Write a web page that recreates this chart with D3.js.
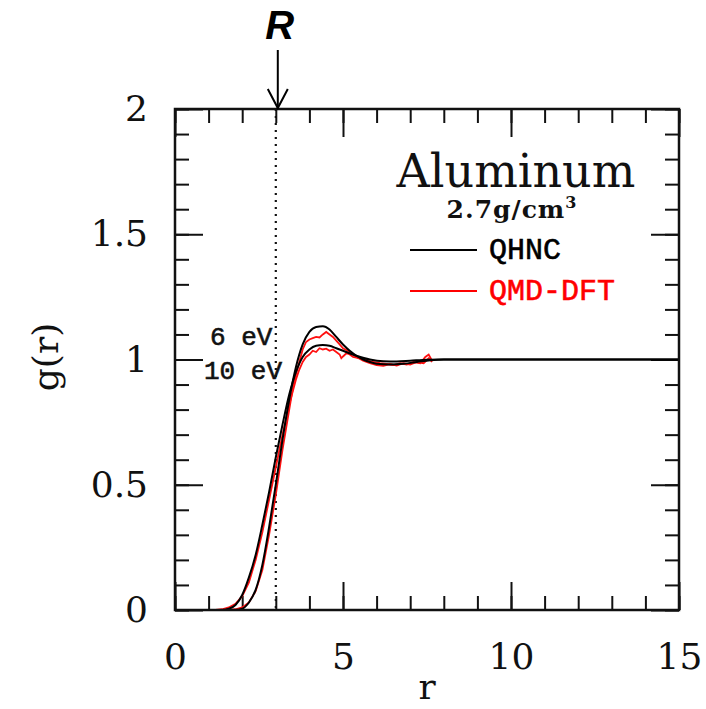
<!DOCTYPE html>
<html><head><meta charset="utf-8">
<script src="https://cdn.jsdelivr.net/npm/d3@7"></script>
<style>body{margin:0;background:#fff}</style>
</head><body>
<svg id="c" width="706" height="709"></svg>
<script>
// ---- data ----
const xTicksMajor = [0, 5, 10, 15];
const yTicksMajor = [0, 0.5, 1, 1.5, 2];
const yTickLabels = ["0", "0.5", "1", "1.5", "2"];
const xTickLabels = ["0", "5", "10", "15"];
const rRadius = 3.0;

// QHNC 10 eV (black)
const qhnc10_r = [0,1.4,1.6,1.8,2.0,2.2,2.4,2.6,2.8,3.0,3.2,3.4,3.6,3.8,4.0,4.2,4.4,4.6,4.8,5.0,5.4,5.8,6.2,6.6,7.0,7.5,8.0,15];
const qhnc10_g = [0,0,0.005,0.02,0.06,0.13,0.22,0.34,0.47,0.61,0.74,0.86,0.95,1.01,1.04,1.055,1.058,1.055,1.045,1.035,1.015,1.0,0.993,0.992,0.995,0.999,1.0,1.0];
// QHNC 6 eV (black)
const qhnc6_r = [0,1.8,2.0,2.2,2.4,2.6,2.8,3.0,3.2,3.4,3.6,3.8,4.0,4.2,4.4,4.6,4.8,5.0,5.2,5.4,5.6,5.8,6.0,6.4,6.8,7.2,7.6,8.0,15];
const qhnc6_g = [0,0,0.005,0.03,0.08,0.18,0.33,0.5,0.68,0.84,0.97,1.06,1.11,1.13,1.133,1.12,1.09,1.06,1.035,1.015,1.0,0.99,0.983,0.98,0.983,0.99,0.997,1.0,1.0];
// QMD-DFT 10 eV (red)
const qmd10_r = [1.2,1.4,1.6,1.8,2.0,2.2,2.4,2.6,2.8,3.0,3.2,3.4,3.5,3.6,3.7,3.8,3.9,4.0,4.1,4.2,4.3,4.4,4.5,4.6,4.7,4.8,4.9,4.95,5.0,5.1,5.2,5.3,5.5,5.7,5.9,6.1,6.3,6.5,6.7,6.9,7.1,7.3,7.45,7.55,7.65];
const qmd10_g = [0,0.003,0.01,0.025,0.055,0.11,0.2,0.31,0.44,0.57,0.7,0.82,0.87,0.92,0.96,0.99,1.01,1.02,1.035,1.03,1.045,1.04,1.043,1.035,1.04,1.03,1.02,1.005,1.012,1.025,1.02,1.01,1.005,0.998,0.99,0.985,0.982,0.978,0.985,0.98,0.99,0.985,1.01,1.02,0.995];
// QMD-DFT 6 eV (red)
const qmd6_r = [1.6,1.8,2.0,2.2,2.4,2.6,2.8,3.0,3.2,3.4,3.5,3.6,3.7,3.8,3.9,4.0,4.1,4.2,4.3,4.4,4.5,4.6,4.7,4.8,4.9,5.0,5.2,5.4,5.6,5.8,6.0,6.2,6.4,6.6,6.8,7.0,7.2,7.4,7.55,7.65];
const qmd6_g = [0,0.003,0.01,0.03,0.075,0.16,0.3,0.46,0.64,0.8,0.88,0.94,0.99,1.04,1.07,1.08,1.085,1.09,1.088,1.1,1.11,1.1,1.09,1.075,1.06,1.045,1.03,1.01,0.995,0.985,0.978,0.975,0.982,0.976,0.985,0.98,0.99,0.985,1.005,0.99];

const legendNames = ["QHNC", "QMD-DFT"];
const legendColors = ["#000", "#ff0000"];

// ---- chart ----
const svg = d3.select("#c");
const L = 175, R = 679, T = 109, B = 610;
const x = d3.scaleLinear().domain([0, 15]).range([L, R]);
const y = d3.scaleLinear().domain([0, 2]).range([B, T]);
const serif = "'DejaVu Serif', serif";
const mono = "'Liberation Mono', 'DejaVu Sans Mono', monospace";

const xMinor = d3.range(0, 16, 1);
const yMinor = d3.range(0, 2.0001, 0.1).map(v => +v.toFixed(2));

function tickAxis(axisFn, scale, vals, size, tx, ty) {
  const g = svg.append("g").attr("transform", `translate(${tx},${ty})`)
    .call(axisFn(scale).tickValues(vals).tickSize(size).tickFormat(""));
  g.select(".domain").remove();
  g.selectAll("line").attr("stroke", "#111").attr("stroke-width", 2);
  return g;
}
// minor ticks (inward)
tickAxis(d3.axisBottom, x, xMinor, -14, 0, B);
tickAxis(d3.axisTop, x, xMinor, -14, 0, T);
tickAxis(d3.axisLeft, y, yMinor, -14, L, 0);
tickAxis(d3.axisRight, y, yMinor, -14, R, 0);
// major ticks
tickAxis(d3.axisBottom, x, xTicksMajor, -28, 0, B);
tickAxis(d3.axisTop, x, xTicksMajor, -28, 0, T);
tickAxis(d3.axisLeft, y, yTicksMajor, -28, L, 0);
tickAxis(d3.axisRight, y, yTicksMajor, -28, R, 0);

// tick labels
const gx = svg.append("g").attr("transform", `translate(0,${B})`)
  .call(d3.axisBottom(x).tickValues(xTicksMajor).tickSize(0).tickPadding(33)
    .tickFormat((d, i) => xTickLabels[i]));
gx.select(".domain").remove();
gx.selectAll("text").attr("font-family", serif).attr("font-size", 36).attr("fill", "#111");

const gy = svg.append("g").attr("transform", `translate(${L},0)`)
  .call(d3.axisLeft(y).tickValues(yTicksMajor).tickSize(0).tickPadding(27)
    .tickFormat((d, i) => yTickLabels[i]));
gy.select(".domain").remove();
gy.selectAll("text").attr("font-family", serif).attr("font-size", 36).attr("fill", "#111");

// axis titles
svg.append("text").attr("x", 427).attr("y", 699).attr("text-anchor", "middle")
  .attr("font-family", serif).attr("font-size", 36).attr("fill", "#111").text("r");
svg.append("text").attr("transform", "translate(58,357) rotate(-90)").attr("text-anchor", "middle")
  .attr("font-family", serif).attr("font-size", 36).attr("fill", "#111").text("g(r)");

// dotted line at R
svg.append("line").attr("x1", x(rRadius)).attr("x2", x(rRadius)).attr("y1", T).attr("y2", B)
  .attr("stroke", "#111").attr("stroke-width", 2.2).attr("stroke-dasharray", "2,5");

// curves
const mk = (rs, gs) => rs.map((r, i) => [r, gs[i]]);
const smooth = d3.line().x(d => x(d[0])).y(d => y(d[1])).curve(d3.curveMonotoneX);
const jag = d3.line().x(d => x(d[0])).y(d => y(d[1])).curve(d3.curveLinear);
const plot = svg.append("g");
plot.append("path").datum(mk(qmd10_r, qmd10_g)).attr("d", jag).attr("fill", "none").attr("stroke", "#ff1010").attr("stroke-width", 1.8);
plot.append("path").datum(mk(qmd6_r, qmd6_g)).attr("d", jag).attr("fill", "none").attr("stroke", "#ff1010").attr("stroke-width", 1.8);
plot.append("path").datum(mk(qhnc10_r, qhnc10_g)).attr("d", smooth).attr("fill", "none").attr("stroke", "#000").attr("stroke-width", 2);
plot.append("path").datum(mk(qhnc6_r, qhnc6_g)).attr("d", smooth).attr("fill", "none").attr("stroke", "#000").attr("stroke-width", 2);

// frame
svg.append("rect").attr("x", L).attr("y", T).attr("width", R - L).attr("height", B - T)
  .attr("fill", "none").attr("stroke", "#111").attr("stroke-width", 2.5);

// temperature labels
svg.append("text").attr("x", 210).attr("y", 345).attr("font-family", mono).attr("font-size", 26)
  .attr("fill", "#111").attr("stroke", "#111").attr("stroke-width", 0.6).text("6 eV");
svg.append("text").attr("x", 204).attr("y", 379).attr("font-family", mono).attr("font-size", 26)
  .attr("fill", "#111").attr("stroke", "#111").attr("stroke-width", 0.6).text("10 eV");

// title block
svg.append("text").attr("x", 516).attr("y", 187).attr("text-anchor", "middle")
  .attr("font-family", serif).attr("font-size", 46).attr("fill", "#111").text("Aluminum");
const dens = svg.append("text").attr("x", 512).attr("y", 218).attr("text-anchor", "middle")
  .attr("font-family", serif).attr("font-size", 25).attr("font-weight", "bold")
  .attr("letter-spacing", 1).attr("fill", "#111");
dens.append("tspan").text("2.7g/cm");
dens.append("tspan").attr("font-size", 16).attr("dy", -10).text("3");

// legend
legendNames.forEach((name, i) => {
  const ly = 250 + i * 41;
  svg.append("line").attr("x1", 410).attr("x2", 477).attr("y1", ly).attr("y2", ly)
    .attr("stroke", legendColors[i]).attr("stroke-width", 2);
  svg.append("text").attr("x", 489).attr("y", ly + 9).attr("font-family", mono)
    .attr("font-size", 30).attr("fill", legendColors[i])
    .attr("stroke", legendColors[i]).attr("stroke-width", 0.6).text(name);
});

// R marker
svg.append("text").attr("x", x(rRadius) + 4).attr("y", 39).attr("text-anchor", "middle")
  .attr("font-family", "'Liberation Sans', Arial, sans-serif").attr("font-weight", "bold")
  .attr("font-style", "italic").attr("font-size", 40).attr("fill", "#000").text("R");
const ax = x(rRadius) + 2;
svg.append("line").attr("x1", ax).attr("x2", ax).attr("y1", 50).attr("y2", T).attr("stroke", "#000").attr("stroke-width", 2);
svg.append("path").attr("d", `M${ax - 10},${T - 20} L${ax},${T - 1} L${ax + 10},${T - 20}`)
  .attr("fill", "none").attr("stroke", "#000").attr("stroke-width", 2);
</script>
</body></html>
